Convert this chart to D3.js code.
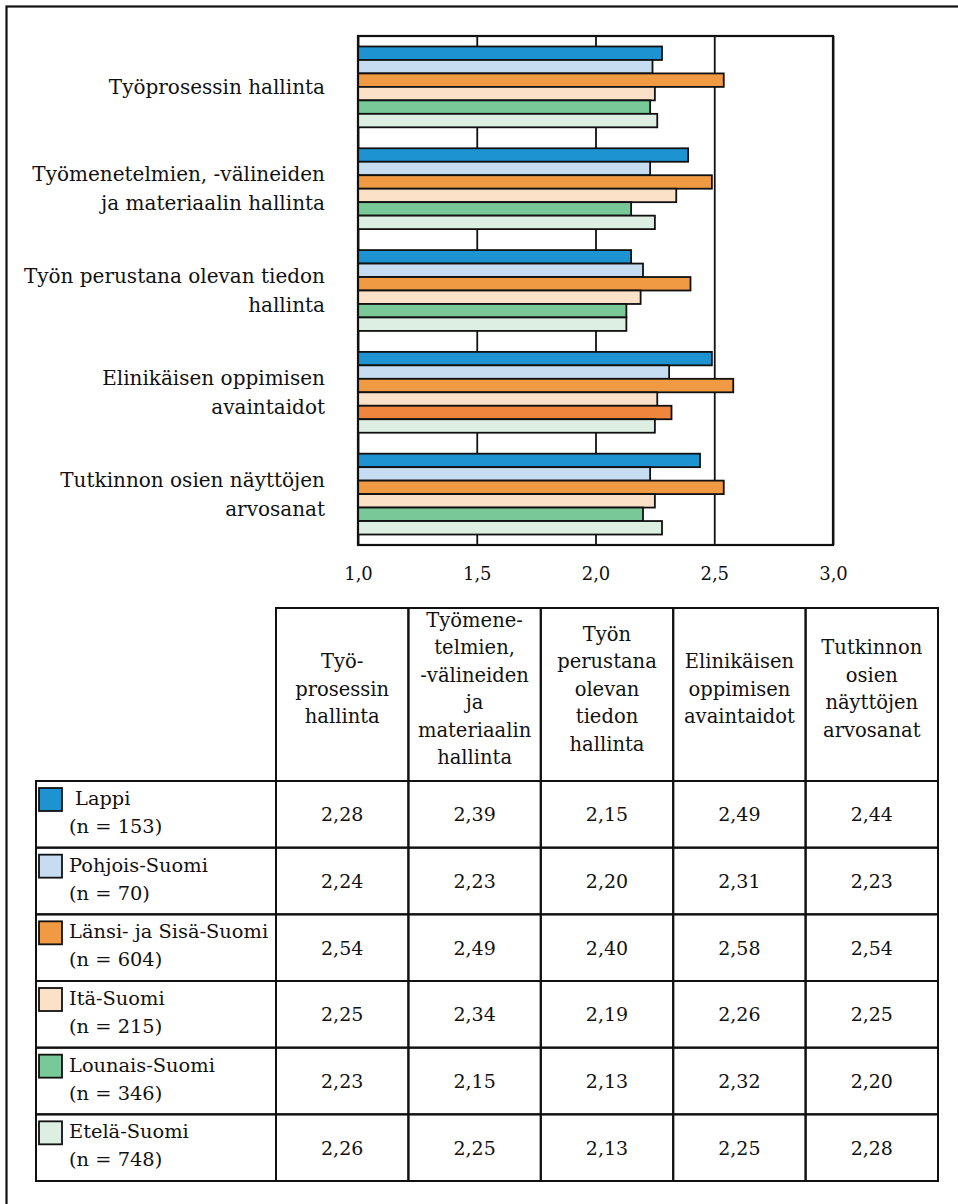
<!DOCTYPE html>
<html>
<head>
<meta charset="utf-8">
<script src="https://cdn.jsdelivr.net/npm/d3@7"></script>
<style>
  body { margin: 0; background: #fff; }
  text { font-family: "DejaVu Serif", serif; fill: #111; }
</style>
</head>
<body>
<div id="chart"></div>
<script>
(function() {
var width = 958,
    height = 1204;

// ---- data ----
var categories = ["Työprosessin hallinta",
  "Työmenetelmien, -välineiden ja materiaalin hallinta",
  "Työn perustana olevan tiedon hallinta",
  "Elinikäisen oppimisen avaintaidot",
  "Tutkinnon osien näyttöjen arvosanat"];

var chartLabels = [["Työprosessin hallinta"],
  ["Työmenetelmien, -välineiden", "ja materiaalin hallinta"],
  ["Työn perustana olevan tiedon", "hallinta"],
  ["Elinikäisen oppimisen", "avaintaidot"],
  ["Tutkinnon osien näyttöjen", "arvosanat"]];

var headerLabels = [["Työ-", "prosessin", "hallinta"],
  ["Työmene-", "telmien,", "-välineiden", "ja", "materiaalin", "hallinta"],
  ["Työn", "perustana", "olevan", "tiedon", "hallinta"],
  ["Elinikäisen", "oppimisen", "avaintaidot"],
  ["Tutkinnon", "osien", "näyttöjen", "arvosanat"]];

var regions = ["Lappi", "Pohjois-Suomi", "Länsi- ja Sisä-Suomi", "Itä-Suomi", "Lounais-Suomi", "Etelä-Suomi"];
var counts = [153, 70, 604, 215, 346, 748];

var lappi    = [2.28, 2.39, 2.15, 2.49, 2.44];
var pohjois  = [2.24, 2.23, 2.20, 2.31, 2.23];
var lansi    = [2.54, 2.49, 2.40, 2.58, 2.54];
var ita      = [2.25, 2.34, 2.19, 2.26, 2.25];
var lounais  = [2.23, 2.15, 2.13, 2.32, 2.20];
var etela    = [2.26, 2.25, 2.13, 2.25, 2.28];
var values = [lappi, pohjois, lansi, ita, lounais, etela];

var tickValues = [1.0, 1.5, 2.0, 2.5, 3.0];

var colors = ["#1e93d1", "#c6dcf1", "#f09b43", "#fbe1c8", "#78c898", "#ddeee2"];
// in the original one bar (Lounais-Suomi, 4th group) is drawn in a darker orange
var oddBar = { region: 4, category: 3, color: "#f0853d" };

var fmt = function(v, d) { return v.toFixed(d).replace(".", ","); };

var svg = d3.select("#chart").append("svg")
  .attr("width", width)
  .attr("height", height);

// outer frame (runs off the right and bottom edge)
svg.append("rect")
  .attr("x", 6.5).attr("y", 6.5)
  .attr("width", 1000).attr("height", 1300)
  .attr("fill", "none").attr("stroke", "#111").attr("stroke-width", 2.2);

// ---- bar chart ----
var plot = { left: 358, right: 833, top: 36, bottom: 545 };

var x = d3.scaleLinear().domain([1, 3]).range([plot.left, plot.right]);
var y = d3.scaleBand().domain(categories)
  .range([plot.top, plot.bottom])
  .paddingInner(0.206).paddingOuter(0.103);
var yInner = d3.scaleBand().domain(regions).range([0, y.bandwidth()]);

// grid
var grid = svg.append("g")
  .attr("transform", "translate(0," + plot.bottom + ")")
  .call(d3.axisBottom(x).tickValues(tickValues).tickSize(-(plot.bottom - plot.top)).tickFormat(""));
grid.select(".domain").remove();
grid.selectAll("line").attr("stroke", "#111").attr("stroke-width", 1.8);

var rows = [];
categories.forEach(function(c, ci) {
  regions.forEach(function(r, ri) {
    var col = colors[ri];
    if (ri === oddBar.region && ci === oddBar.category) col = oddBar.color;
    rows.push({ cat: c, region: r, value: values[ri][ci], color: col });
  });
});

svg.append("g").selectAll("rect")
  .data(rows)
  .enter().append("rect")
  .attr("x", x(1))
  .attr("y", function(d) { return y(d.cat) + yInner(d.region); })
  .attr("width", function(d) { return x(d.value) - x(1); })
  .attr("height", yInner.bandwidth())
  .attr("fill", function(d) { return d.color; })
  .attr("stroke", "#111")
  .attr("stroke-width", 1.8);

svg.append("rect")
  .attr("x", plot.left).attr("y", plot.top)
  .attr("width", plot.right - plot.left).attr("height", plot.bottom - plot.top)
  .attr("fill", "none").attr("stroke", "#111").attr("stroke-width", 2.2);

// x axis labels
var xAxis = svg.append("g")
  .attr("transform", "translate(0," + plot.bottom + ")")
  .call(d3.axisBottom(x).tickValues(tickValues).tickSize(0).tickPadding(22)
    .tickFormat(function(d) { return fmt(d, 1); }));
xAxis.select(".domain").remove();
xAxis.selectAll("text")
  .style("font-family", "DejaVu Serif")
  .style("font-size", "18px")
  .attr("fill", "#111");

// category labels
var catG = svg.append("g").selectAll("text")
  .data(categories)
  .enter().append("text")
  .attr("text-anchor", "end")
  .style("font-size", "20px")
  .attr("transform", function(d) { return "translate(325," + (y(d) + y.bandwidth() / 2) + ")"; });
catG.each(function(d, i) {
  var lines = chartLabels[i];
  var t = d3.select(this);
  lines.forEach(function(l, li) {
    t.append("tspan")
      .attr("x", 0)
      .attr("y", (li - (lines.length - 1) / 2) * 29 + 7)
      .text(l);
  });
});

// ---- table ----
var tbl = { left: 36, colStart: 276, right: 938, top: 608, headBottom: 781, bottom: 1181 };
var tx = d3.scaleBand().domain(categories).range([tbl.colStart, tbl.right]);
var ty = d3.scaleBand().domain(regions).range([tbl.headBottom, tbl.bottom]);

var lineStyle = function(sel) {
  sel.attr("fill", "none").attr("stroke", "#111").attr("stroke-width", 2);
};

// header cells
svg.append("g").selectAll("rect")
  .data(categories)
  .enter().append("rect")
  .attr("x", function(d) { return tx(d); })
  .attr("y", tbl.top)
  .attr("width", tx.bandwidth())
  .attr("height", tbl.headBottom - tbl.top)
  .call(lineStyle);

svg.append("g").selectAll("text")
  .data(categories)
  .enter().append("text")
  .attr("text-anchor", "middle")
  .style("font-size", "19.5px")
  .each(function(d, i) {
    var lines = headerLabels[i];
    var t = d3.select(this);
    var cy = (tbl.top + tbl.headBottom) / 2 - 6;
    lines.forEach(function(l, li) {
      t.append("tspan")
        .attr("x", tx(d) + tx.bandwidth() / 2)
        .attr("y", cy + (li - (lines.length - 1) / 2) * 27.5 + 7)
        .text(l);
    });
  });

// body rows
var bodyRow = svg.append("g").selectAll("g")
  .data(regions)
  .enter().append("g")
  .attr("transform", function(d) { return "translate(0," + ty(d) + ")"; });

bodyRow.append("rect")
  .attr("x", tbl.left).attr("y", 0)
  .attr("width", tbl.colStart - tbl.left).attr("height", ty.bandwidth())
  .call(lineStyle);

bodyRow.append("rect")
  .attr("x", 39).attr("y", 7)
  .attr("width", 23).attr("height", 23)
  .attr("fill", function(d, i) { return colors[i]; })
  .attr("stroke", "#111").attr("stroke-width", 1.8);

bodyRow.append("text")
  .attr("x", function(d, i) { return i === 0 ? 75 : 69; })
  .attr("y", 24)
  .style("font-size", "19.4px")
  .text(function(d) { return d; });

bodyRow.append("text")
  .attr("x", 69)
  .attr("y", 52)
  .style("font-size", "19.4px")
  .text(function(d, i) { return "(n = " + counts[i] + ")"; });

bodyRow.each(function(r, ri) {
  var g = d3.select(this);
  g.selectAll("rect.cell")
    .data(categories)
    .enter().append("rect")
    .attr("class", "cell")
    .attr("x", function(d) { return tx(d); })
    .attr("y", 0)
    .attr("width", tx.bandwidth())
    .attr("height", ty.bandwidth())
    .call(lineStyle);
  g.selectAll("text.val")
    .data(categories)
    .enter().append("text")
    .attr("class", "val")
    .attr("text-anchor", "middle")
    .attr("x", function(d) { return tx(d) + tx.bandwidth() / 2; })
    .attr("y", ty.bandwidth() / 2 + 7)
    .style("font-size", "19px")
    .text(function(d, ci) { return fmt(values[ri][ci], 2); });
});

})();
</script>
</body>
</html>
